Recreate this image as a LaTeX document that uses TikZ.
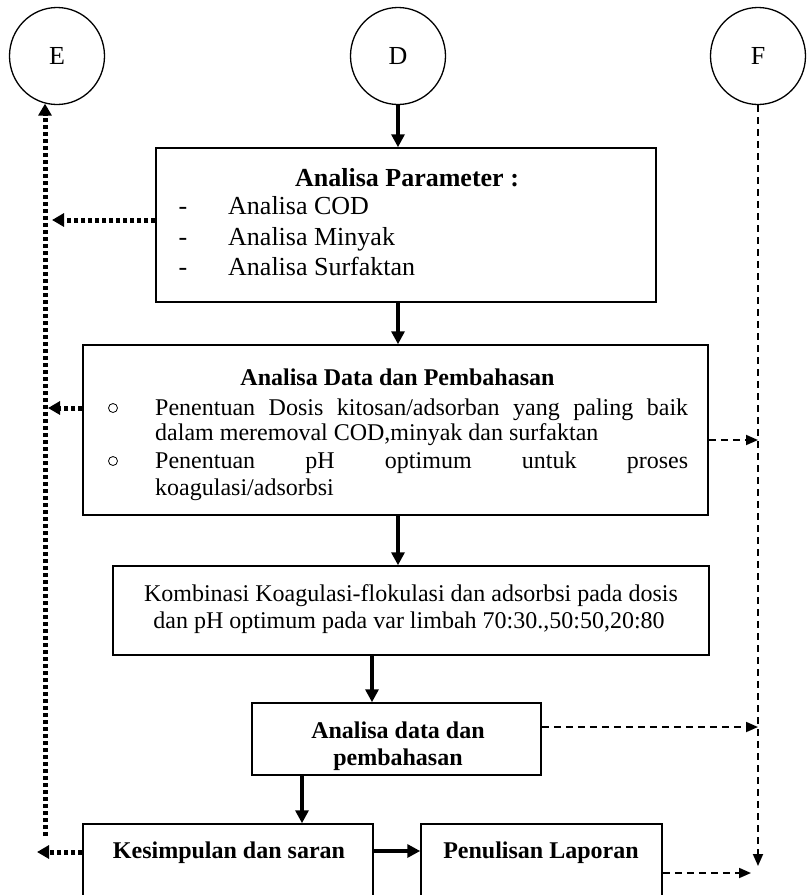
\documentclass[tikz,border=0pt]{standalone}
\usepackage{fontspec}
\setmainfont{Liberation Serif}
\usetikzlibrary{arrows.meta, shapes.geometric}

\begin{document}
\begin{tikzpicture}[x=1pt, y=-1pt,
  box/.style={draw, rectangle, line width=1.5pt, inner sep=0pt},
  ring/.style={draw, ellipse, line width=1.3pt, minimum width=95pt, minimum height=97pt,
    inner sep=0pt, font=\fontsize{26}{30}\selectfont},
  txt/.style={inner sep=0pt, anchor=base, font=\fontsize{24}{28}\selectfont},
  txtb/.style={inner sep=0pt, anchor=base, font=\fontsize{24}{28}\selectfont\bfseries},
  big/.style={inner sep=0pt, anchor=base, font=\fontsize{26}{30}\selectfont},
  bigb/.style={inner sep=0pt, anchor=base, font=\fontsize{26}{30}\selectfont\bfseries},
  dot/.style={draw, circle, minimum size=9pt, inner sep=0pt, line width=0.8pt},
  flow/.style={line width=4.5pt, -{Triangle[length=13pt, width=13pt]}},
  back/.style={line width=5pt, dash pattern=on 4pt off 3pt, -{Triangle[length=12pt, width=13pt]}},
  side/.style={line width=1.8pt, dash pattern=on 7pt off 5pt, -{Triangle[length=12pt, width=10pt]}},
]
\useasboundingbox (0,0) rectangle (810,895);
\clip (0,0) rectangle (810,895);
\fill[white] (0,0) rectangle (810,895);

% connector circles
\node[ring] (E) at (57,56) {E};
\node[ring] (D) at (398,56) {D};
\node[ring] (F) at (758,56) {F};

% process boxes (the two lowest run off the page)
\node[box, minimum width=500pt, minimum height=154pt] (b1) at (406,225) {};
\node[box, minimum width=625pt, minimum height=170pt] (b2) at (395.5,430) {};
\node[box, minimum width=596pt, minimum height=89pt] (b3) at (411,610.5) {};
\node[box, minimum width=289pt, minimum height=72pt] (b4) at (396.5,739) {};
\node[box, minimum width=290pt, minimum height=91pt] (b5) at (228,869.5) {};
\node[box, minimum width=241pt, minimum height=91pt] (b6) at (541.5,869.5) {};

% box 1 text
\node[bigb] (t1) at (407,186) {Analisa Parameter :};
\node[big] (d1) at (183,214.5) {-};
\node[big] (d2) at (183,245.5) {-};
\node[big] (d3) at (183,275.5) {-};
\node[big, anchor=base west] (a1) at (228,214.5) {Analisa COD};
\node[big, anchor=base west] (a2) at (228,245.5) {Analisa Minyak};
\node[big, anchor=base west] (a3) at (228,275.5) {Analisa Surfaktan};

% box 2 text
\node[txtb] (t2) at (397.5,385) {Analisa Data dan Pembahasan};
\node[dot] (o1) at (113,408) {};
\node[dot] (o2) at (113,461) {};
\node[txt, anchor=base west] (p1) at (155,415)
  {\makebox[533pt][s]{Penentuan Dosis kitosan/adsorban yang paling baik}};
\node[txt, anchor=base west] (p2) at (155,440) {dalam meremoval COD,minyak dan surfaktan};
\node[txt, anchor=base west] (p3) at (155,468)
  {\makebox[533pt][s]{Penentuan pH optimum untuk proses}};
\node[txt, anchor=base west] (p4) at (155,495) {koagulasi/adsorbsi};

% box 3 text
\node[txt] (k1) at (411,601) {Kombinasi Koagulasi-flokulasi dan adsorbsi pada dosis};
\node[txt] (k2) at (409,628) {dan pH optimum pada var limbah 70:30.,50:50,20:80};

% box 4 text
\node[txtb] (r1) at (398,738) {Analisa data dan};
\node[txtb] (r2) at (398,765) {pembahasan};

% boxes 5 and 6 text
\node[txtb] (t5) at (229,858) {Kesimpulan dan saran};
\node[txtb] (t6) at (541,858) {Penulisan Laporan};

% helper coordinates for connector rows and columns
\coordinate (xa) at (372,0);
\coordinate (xb) at (302,0);
\coordinate (yk) at (0,851);
\coordinate (y1) at (0,220);
\coordinate (y2) at (0,408);
\coordinate (y5) at (0,852);
\coordinate (r2y) at (0,440);
\coordinate (r4y) at (0,727);
\coordinate (r6y) at (0,873);
\coordinate (eLow) at (45,836);
\coordinate (eTip1) at (52,220);
\coordinate (eTip2) at (48,408);
\coordinate (eTip5) at (37,852);
\coordinate (fEnd) at (758,866);
\coordinate (fTip) at (751,873);

% main flow
\draw[flow] (D.south) -- (D.south |- b1.north);
\draw[flow] (D.south |- b1.south) -- (D.south |- b2.north);
\draw[flow] (D.south |- b2.south) -- (D.south |- b3.north);
\draw[flow] (b3.south -| xa) -- (b4.north -| xa);
\draw[flow] (b4.south -| xb) -- (b5.north -| xb);
\draw[flow] (b5.east |- yk) -- (b6.west |- yk);

% feedback to E
\draw[back] (b1.west |- y1) -- (eTip1);
\draw[back] (b2.west |- y2) -- (eTip2);
\draw[back] (b5.west |- y5) -- (eTip5);
\draw[back] (eLow) -- (eLow |- E.256);

% links to F
\draw[side] (F.south) -- (fEnd);
\draw[side] (b2.east |- r2y) -- (F.south |- r2y);
\draw[side] (b4.east |- r4y) -- (F.south |- r4y);
\draw[side] (b6.east |- r6y) -- (fTip);
\end{tikzpicture}
\end{document}
